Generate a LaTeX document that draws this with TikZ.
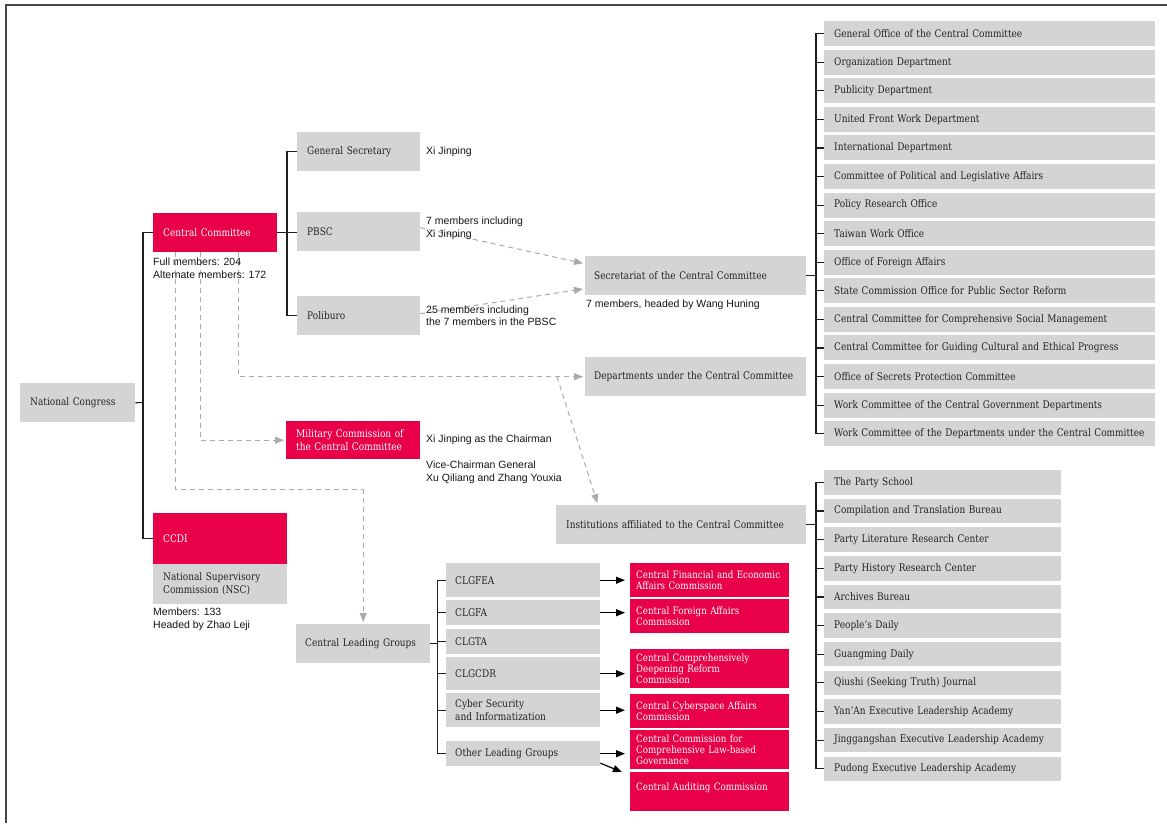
\documentclass[tikz,border=0pt]{standalone}
\usepackage{fontspec}
\setmainfont[FakeStretch=0.855]{DejaVu Serif}
\newfontfamily\labfont{Liberation Sans}
\usetikzlibrary{arrows.meta,backgrounds}
\hyphenpenalty=10000
\exhyphenpenalty=10000
\definecolor{boxgray}{RGB}{211,212,214}
\definecolor{boxtext}{RGB}{35,35,35}
\definecolor{cred}{RGB}{232,0,72}
\definecolor{labtext}{RGB}{20,20,20}
\definecolor{linec}{RGB}{30,30,30}
\definecolor{dashc}{RGB}{170,170,170}
\definecolor{framec}{RGB}{70,70,70}
\begin{document}
\begin{tikzpicture}[x=1pt,y=-1pt,
  box/.style={anchor=north west, inner xsep=10pt, inner ysep=0pt, align=left, font=\fontsize{10.5}{13}\selectfont},
  gbox/.style={box, fill=boxgray, text=boxtext},
  rbox/.style={box, fill=cred, text=white},
  cbox/.style={rbox, inner xsep=6pt, font=\fontsize{10.2}{11}\selectfont},
  lab/.style={inner sep=0pt, align=left, text=labtext, font=\labfont\fontsize{10.5}{12.5}\selectfont},
  conn/.style={draw=linec, line width=1.2pt},
  dsh/.style={draw=dashc, line width=1pt, dash pattern=on 5pt off 4pt, -{Triangle[length=9pt,width=7pt]}, shorten >=2pt},
  dshn/.style={draw=dashc, line width=1pt, dash pattern=on 5pt off 4pt},
  sarr/.style={draw=black, line width=1.2pt, -{Triangle[length=9pt,width=7pt]}, shorten >=5pt}]
\useasboundingbox (0,0) rectangle (1167,823);
\draw[framec, line width=1.5pt] (6,823) -- (6,5) -- (1167,5);

% left column
\node[gbox, text width=95pt, minimum height=39pt] (nc) at (20,383) {National Congress};
\node[rbox, text width=104pt, minimum height=39pt] (cc) at (153,213) {Central Committee};
\node[rbox, text width=114pt, minimum height=51pt] (ccdi) at (153,513) {CCDI};
\node[gbox, text width=114pt, minimum height=40pt] (nsc) at (153,564) {National Supervisory\\Commission (NSC)};
\node[lab, anchor=north west] (ccl) at (153,258) {Full members: 204\\Alternate members: 172};
\node[lab, anchor=west] (nscl) at (153,619.5) {Members: 133\\Headed by Zhao Leji};

% second column
\node[gbox, text width=103pt, minimum height=39pt] (gs) at (297,132) {General Secretary};
\node[gbox, text width=103pt, minimum height=39pt] (pbsc) at (297,212) {PBSC};
\node[gbox, text width=103pt, minimum height=39pt] (pol) at (297,296) {Poliburo};
\node[lab, anchor=west] (gsl) at (426,152) {Xi Jinping};
\node[lab, anchor=west] (pbscl) at (426,228.5) {7 members including\\Xi Jinping};
\node[lab, anchor=west] (poll) at (426,315.5) {25 members including\\the 7 members in the PBSC};
\node[rbox, text width=114pt, minimum height=38pt] (mil) at (286,421) {Military Commission of\\the Central Committee};
\node[lab, anchor=west] (mill1) at (426,440) {Xi Jinping as the Chairman};
\node[lab, anchor=west] (mill2) at (426,472.5) {Vice-Chairman General\\Xu Qiliang and Zhang Youxia};
\node[gbox, inner xsep=9pt, text width=116pt, minimum height=39pt] (clg) at (296,624) {Central Leading Groups};

% third column
\node[gbox, inner xsep=9pt, text width=203pt, minimum height=39pt] (sec) at (585,256) {Secretariat of the Central Committee};
\node[lab, anchor=west] (secl) at (586,305) {7 members, headed by Wang Huning};
\node[gbox, inner xsep=9pt, text width=203pt, minimum height=39pt] (dep) at (585,357) {Departments under the Central Committee};
\node[gbox, text width=230pt, minimum height=39pt] (inst) at (556,505) {Institutions affiliated to the Central Committee};

% leading groups
\node[gbox, inner xsep=9pt, text width=136pt, minimum height=34pt] (clgfea) at (446,563) {CLGFEA};
\node[gbox, inner xsep=9pt, text width=136pt, minimum height=25pt] (clgfa) at (446,600) {CLGFA};
\node[gbox, inner xsep=9pt, text width=136pt, minimum height=25pt] (clgta) at (446,629) {CLGTA};
\node[gbox, inner xsep=9pt, text width=136pt, minimum height=33pt] (clgcdr) at (446,657) {CLGCDR};
\node[gbox, inner xsep=9pt, text width=136pt, minimum height=34pt] (cyber) at (446,693) {Cyber Security\\and Informatization};
\node[gbox, inner xsep=9pt, text width=136pt, minimum height=25pt] (other) at (446,741) {Other Leading Groups};

\node[cbox, text width=147pt, minimum height=34pt] (cfeac) at (630,563) {Central Financial and Economic\\Affairs Commission};
\node[cbox, text width=147pt, minimum height=34pt] (cfac) at (630,599) {Central Foreign Affairs\\Commission};
\node[cbox, text width=147pt, minimum height=39pt] (ccdrc) at (630,649) {Central Comprehensively\\Deepening Reform\\Commission};
\node[cbox, text width=147pt, minimum height=34pt] (ccac) at (630,694) {Central Cyberspace Affairs\\Commission};
\node[cbox, text width=147pt, minimum height=39pt] (ccclg) at (630,730) {Central Commission for\\Comprehensive Law-based\\Governance};
\node[cbox, text width=147pt, minimum height=39pt] (cac) at (630,772) {Central Auditing Commission\\\mbox{}};

% right lists
\foreach \t [count=\i] in {General Office of the Central Committee, Organization Department, Publicity Department, United Front Work Department, International Department, Committee of Political and Legislative Affairs, Policy Research Office, Taiwan Work Office, Office of Foreign Affairs, State Commission Office for Public Sector Reform, Central Committee for Comprehensive Social Management, Central Committee for Guiding Cultural and Ethical Progress, Office of Secrets Protection Committee, Work Committee of the Central Government Departments, Work Committee of the Departments under the Central Committee}
  \node[gbox, text width=311pt, minimum height=25pt] (r\i) at (824,{21+(\i-1)*28.57}) {\mbox{\t}};
\foreach \t [count=\i] in {The Party School, Compilation and Translation Bureau, Party Literature Research Center, Party History Research Center, Archives Bureau, People's Daily, Guangming Daily, Qiushi (Seeking Truth) Journal, Yan'An Executive Leadership Academy, Jinggangshan Executive Leadership Academy, Pudong Executive Leadership Academy}
  \node[gbox, text width=217pt, minimum height=24.5pt] (s\i) at (824,{470+(\i-1)*28.63}) {\mbox{\t}};

% dashed connectors from the Central Committee
\begin{scope}[on background layer]
\draw[dshn] ([xshift=22pt]cc.south west) |- ([yshift=135pt]clg.north) coordinate (d1);
\draw[dsh] (d1) -- (clg.north);
\draw[dsh] ([xshift=47pt]cc.south west) |- (mil.west);
\draw[dsh] ([xshift=85pt]cc.south west) |- (dep.west);
\coordinate (d2) at ([xshift=-28pt]dep.west);
\draw[dsh] (d2) -- ([xshift=42pt]inst.north west);
\draw[dsh] ([yshift=4pt]pbsc.east) -- ([yshift=12pt]sec.west);
\draw[dsh] ([yshift=2pt]pol.east) -- ([yshift=-13pt]sec.west);
\end{scope}

% brackets
\coordinate (b1) at (143,402.5);
\draw[conn] (nc.east) -- (b1);
\draw[conn] (cc.west) -| (b1);
\draw[conn] (ccdi.west) -| (b1);
\coordinate (b2) at (287,232.5);
\draw[conn] (cc.east) -- (cc.east -| pbsc.west);
\draw[conn] (gs.west) -| (b2);
\draw[conn] (pol.west) -| (b2);
\draw[conn] (sec.east) -- ++(9.5,0) coordinate (b3);
\foreach \i in {1,...,15} \draw[conn] (r\i.west) -| (b3);
\draw[conn] (inst.east) -- ++(9.5,0) coordinate (b4);
\foreach \i in {1,...,11} \draw[conn] (s\i.west) -| (b4);
\draw[conn] (clg.east) -- ++(7,0) coordinate (b5);
\foreach \n in {clgfea,clgfa,clgta,clgcdr,cyber,other} \draw[conn] (\n.west) -| (b5);

% solid arrows
\draw[sarr] (clgfea.east) -- (clgfea.east -| cfeac.west);
\draw[sarr] (clgfa.east) -- (clgfa.east -| cfac.west);
\draw[sarr] (clgcdr.east) -- (clgcdr.east -| ccdrc.west);
\draw[sarr] (cyber.east) -- (cyber.east -| ccac.west);
\draw[sarr] (other.east) -- (other.east -| ccclg.west);
\draw[sarr, shorten >=0pt] ([yshift=-9.5pt]other.east) -- ([xshift=-8pt]cac.north west);
\end{tikzpicture}
\end{document}
